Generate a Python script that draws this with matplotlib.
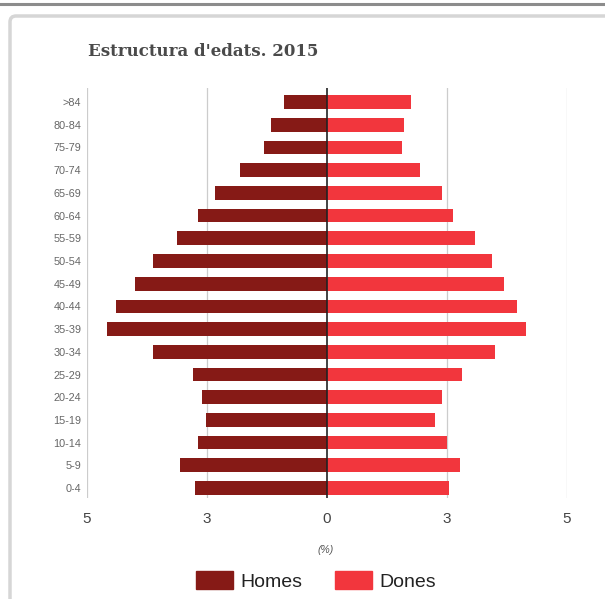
import matplotlib.pyplot as plt
import numpy as np
from matplotlib.patches import FancyBboxPatch, Patch
from matplotlib.lines import Line2D

# grups d'edat, de baix a dalt
edats = ["0-4", "5-9", "10-14", "15-19", "20-24", "25-29", "30-34", "35-39", "40-44",
         "45-49", "50-54", "55-59", "60-64", "65-69", "70-74", "75-79", "80-84", ">84"]
homes = [2.76, 3.06, 2.68, 2.52, 2.60, 2.79, 3.63, 4.58, 4.39,
         4.01, 3.63, 3.13, 2.68, 2.34, 1.81, 1.31, 1.16, 0.90]
dones = [2.55, 2.78, 2.51, 2.25, 2.40, 2.82, 3.51, 4.15, 3.96,
         3.69, 3.43, 3.09, 2.63, 2.40, 1.94, 1.57, 1.60, 1.76]
xticks = [-5, -2.5, 0, 2.5, 5]
xlabels = ["5", "3", "0", "3", "5"]

plt.rcParams['font.family'] = ['Liberation Sans', 'DejaVu Sans']

fig = plt.figure(figsize=(6.05, 5.99), dpi=100)

# marc de fons
fig.add_artist(Line2D([0, 1], [1 - 4/599, 1 - 4/599], color="#8c8c8c", lw=2.2, zorder=-2))
fig.add_artist(FancyBboxPatch((10/605, -0.05), 1.0, 1 - 16/599 + 0.05,
                              boxstyle="round,pad=0,rounding_size=0.01",
                              fc="white", ec="#d6d6d6", lw=2.5, zorder=-2))

ax = fig.add_axes([87/605, 1 - 498/599, 480/605, 410/599])
ax.patch.set_alpha(0)
y = np.arange(len(edats))
ax.barh(y, [-v for v in homes], height=0.6, color="#861a16", label="Homes")
ax.barh(y, dones, height=0.6, color="#f2363d", label="Dones")
ax.axvline(0, color="#222222", lw=1.2, zorder=3)
for t in [-5, -2.5, 2.5, 5]:
    ax.axvline(t, color="#cccccc", lw=0.9, zorder=0)

ax.set_xlim(-5, 5)
ax.set_ylim(-0.44, 17.62)
ax.set_yticks(y)
ax.set_yticklabels(edats, fontsize=7.8, color="#666666")
ax.set_xticks(xticks)
ax.set_xticklabels(xlabels, fontsize=11, color="#444444")
ax.tick_params(axis="y", length=0, pad=4)
ax.tick_params(axis="x", length=0, pad=10)
for s in ax.spines.values():
    s.set_visible(False)

fig.text(0.5 * (87 + 567) / 605 - 0.002, 1 - 550/599, "(%)", fontsize=7.5,
         style="italic", color="#555555", ha="center", va="center")
fig.text(88/605, 1 - 52/599, "Estructura d'edats. 2015", family="DejaVu Serif",
         fontsize=12, fontweight="bold", color="#4a4a4a", va="center")

handles = [Patch(color="#861a16"), Patch(color="#f2363d")]
fig.legend(handles, ["Homes", "Dones"], loc="center", bbox_to_anchor=(0.522, 1 - 581/599),
           ncol=2, frameon=False, fontsize=14, handlelength=1.95, handleheight=1.03,
           columnspacing=1.65, handletextpad=0.36, labelcolor="#222222")

plt.savefig("out.png", dpi=100)
